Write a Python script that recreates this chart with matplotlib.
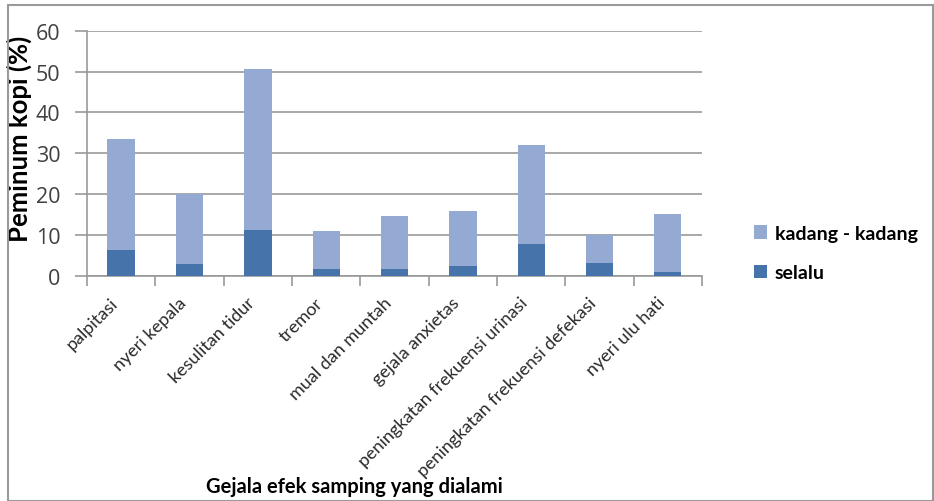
import matplotlib
matplotlib.use("Agg")
import matplotlib.pyplot as plt
import numpy as np
from matplotlib.patches import Rectangle

plt.rcParams['font.family'] = ['Lato', 'DejaVu Sans']

categories = ["palpitasi", "nyeri kepala", "kesulitan tidur", "tremor",
              "mual dan muntah", "gejala anxietas",
              "peningkatan frekuensi urinasi",
              "peningkatan frekuensi defekasi", "nyeri ulu hati"]
selalu = [6.3, 3.0, 11.2, 1.8, 1.8, 2.4, 7.9, 3.3, 1.0]
total = [33.6, 20.0, 50.6, 10.9, 14.6, 15.8, 32.0, 10.0, 15.1]
kadang = [t - s for t, s in zip(total, selalu)]
yticks = [0, 10, 20, 30, 40, 50, 60]

dark = "#4673AA"
light = "#95AAD3"

fig = plt.figure(figsize=(9.34, 5.02), dpi=100)
ax = fig.add_axes([87/934, 1 - 277/502, (702-87)/934, (277-31.7)/502])

x = np.arange(len(categories))
ax.bar(x, selalu, width=0.4, color=dark, label="selalu", zorder=3)
ax.bar(x, kadang, width=0.4, bottom=selalu, color=light,
       label="kadang - kadang", zorder=3)

ax.set_xlim(-0.5, len(categories) - 0.5)
ax.set_ylim(0, 60)
ax.set_yticks(yticks)
ax.set_yticklabels([str(v) for v in yticks], fontsize=15.5, color="#404040",
                   family=['Open Sans', 'DejaVu Sans'])
ax.yaxis.grid(True, color="#999999", linewidth=1.2, zorder=0)
ax.tick_params(axis='y', length=9, color="#999999", width=1.2, pad=10)

ax.set_xticks(np.arange(len(categories) + 1) - 0.5, minor=False)
ax.set_xticklabels([])
ax.tick_params(axis='x', length=7, color="#999999", width=1.2)
ax.set_xticks(x, minor=True)
ax.set_xticklabels(categories, minor=True, rotation=45, ha='right',
                   va='top', fontsize=13, color="#2a2a2a")
ax.tick_params(axis='x', which='minor', length=0, pad=13)

for side in ("top", "right"):
    ax.spines[side].set_visible(False)
for side in ("left", "bottom"):
    ax.spines[side].set_color("#999999")
    ax.spines[side].set_linewidth(1.2)

ax.set_ylabel("Peminum kopi (%)", fontsize=18.5, fontweight='bold')
ax.yaxis.set_label_coords(-0.089, 0.563)

fig.text(354/934, 1 - 487/502, "Gejala efek samping yang dialami",
         fontsize=14.5, fontweight='bold', ha='center', va='center')

handles, labels = ax.get_legend_handles_labels()
leg = fig.legend(handles[::-1], labels[::-1], loc='center left',
                 bbox_to_anchor=(736/934, 1 - 254/502), frameon=False,
                 prop={'size': 14, 'weight': 'bold'},
                 handlelength=0.7, handleheight=0.7,
                 handletextpad=0.4, labelspacing=1.15)

# outer chart frame
fig.patches.append(Rectangle((7.5/934, 0.5/502), 925/934, (495.5)/502,
                             transform=fig.transFigure, fill=False,
                             edgecolor="#9a9a9a", linewidth=1.5))

fig.savefig("out.png", dpi=100)
